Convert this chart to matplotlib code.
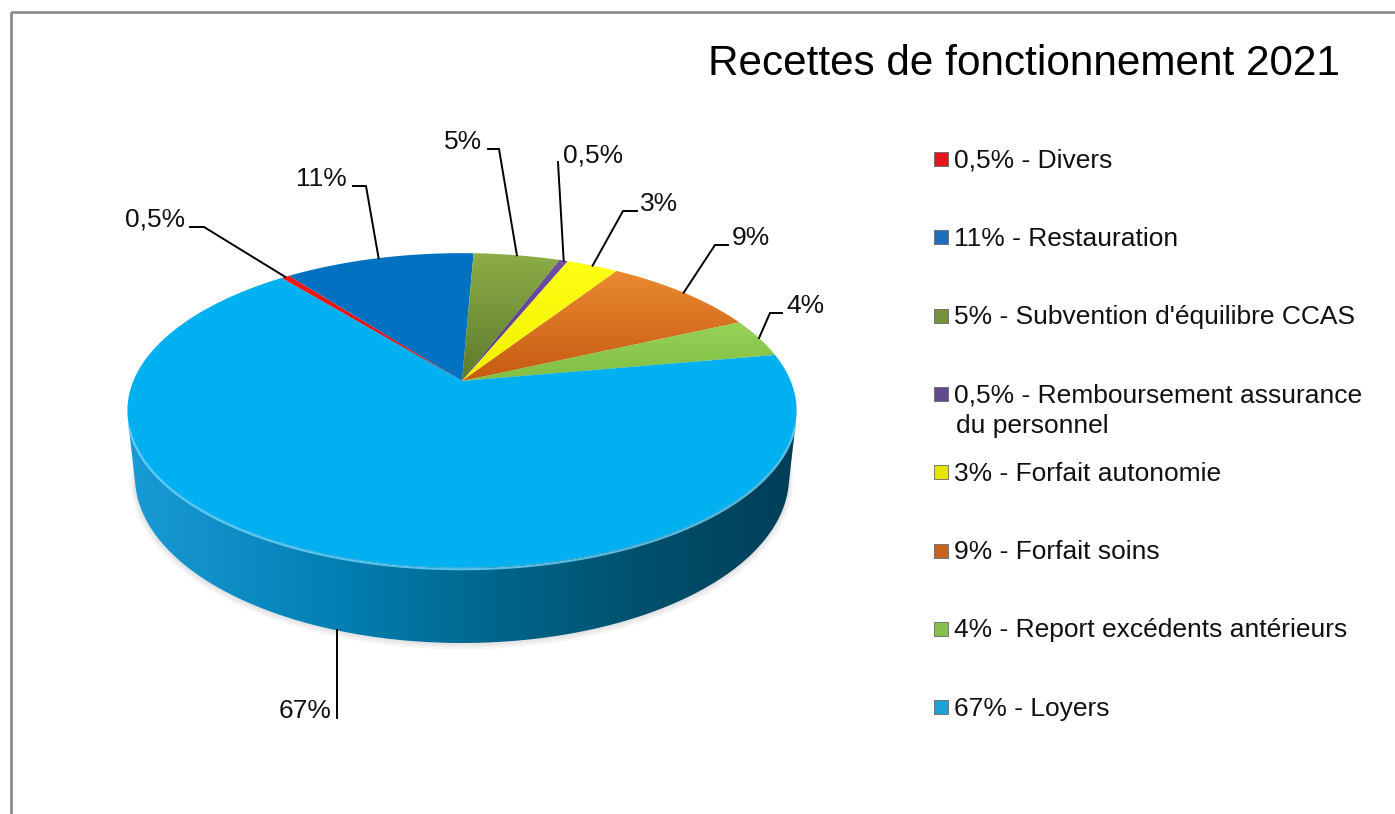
import numpy as np
import matplotlib
matplotlib.use('Agg')
from matplotlib import pyplot as plt
from matplotlib.patches import Polygon, Rectangle
from matplotlib.colors import to_rgb

plt.rcParams['font.family'] = ['Liberation Sans', 'DejaVu Sans']
plt.rcParams['image.composite_image'] = False  # keep each clipped gradient separate

# Slices in legend order (clockwise from the first slice)
categories = ['Divers', 'Restauration', "Subvention d'équilibre CCAS",
              'Remboursement assurance', 'Forfait autonomie', 'Forfait soins',
              'Report excédents antérieurs', 'Loyers']
shares = [0.5, 11, 5, 0.5, 3, 9, 4, 67]
share_labels = ['0,5%', '11%', '5%', '0,5%', '3%', '9%', '4%', '67%']
legend_labels = [s + ' - ' + c for s, c in zip(share_labels, categories)]

# top colour (rim) and lower colour (towards centre) of each slice
col_rim = ['#F01818', '#0070C0', '#8CAD46', '#6D50A2', '#FFFF14', '#EA8A30', '#96D256', '#00B0F0']
col_mid = ['#D81010', '#0070C0', '#5E7A2E', '#563A88', '#F0F000', '#C65A12', '#80BE45', '#00B0F0']
col_leg = ['#E8141B', '#1F6FBE', '#76933C', '#604A8B', '#E6E600', '#C8621E', '#86C04C', '#1CA3DA']

# perspective camera for the 3D pie (screen pixels)
cx, cy = 462, 381
S, D, elev, h = 1558.0, 4.74, np.radians(27.5), 0.23
ce, se = np.cos(elev), np.sin(elev)
start = np.radians(129.0)


def project(x, y, z):
    qy = y + D * ce
    qz = z - D * se
    depth = qy * ce - qz * se
    up = qy * se + qz * ce
    return cx + S * x / depth, cy - S * up / depth


def rim(t, z=0.0):
    return project(np.cos(t), np.sin(t), z)


fig = plt.figure(figsize=(13.95, 8.14), dpi=100)
ax = fig.add_axes([0, 0, 1, 1])
ax.set_xlim(0, 1395)
ax.set_ylim(814, 0)
ax.axis('off')


def gradient_fill(verts, c0, c1, horizontal=False, stops=None):
    poly = Polygon(verts, closed=True, fill=False, lw=0)
    ax.add_patch(poly)
    x0, y0 = verts.min(axis=0)
    x1, y1 = verts.max(axis=0)
    n = 256
    f = np.linspace(0, 1, n)
    if stops is not None:
        pos = [p for p, _ in stops]
        cols = np.array([to_rgb(c) for _, c in stops])
        grad = np.stack([np.interp(f, pos, cols[:, k]) for k in range(3)], axis=-1)
    else:
        a, b = np.array(to_rgb(c0)), np.array(to_rgb(c1))
        grad = a * (1 - f[:, None]) + b * f[:, None]
    img = grad[None, :, :] if horizontal else grad[:, None, :]
    im = ax.imshow(img, extent=(x0, x1, y1, y0), origin='upper', aspect='auto',
                   interpolation='bilinear', zorder=1)
    im.set_clip_path(poly)


# slice angles
fr = np.array(shares) / np.sum(shares)
edges = start - 2 * np.pi * np.concatenate([[0], np.cumsum(fr)])

# faint shadow under the pie
tt = np.linspace(0, 2 * np.pi, 400)
for k in range(3):
    r = 1.0 + 0.004 * (k + 1)
    sx, sy = project(r * np.cos(tt), r * np.sin(tt), -h)
    ax.fill(sx, sy + 1.2 * (k + 1), color='black', alpha=0.035, lw=0)

# side wall (only the big slice shows in front)
t1 = np.pi + np.arcsin(1 / (D * ce))
t2 = 2 * np.pi - np.arcsin(1 / (D * ce))
ts = np.linspace(t1, t2, 300)
tx, ty = rim(ts)
bx, by = rim(ts[::-1], -h)
side = np.column_stack([np.concatenate([tx, bx]), np.concatenate([ty, by])])
gradient_fill(side, None, None, horizontal=True,
              stops=[(0.0, '#1A9AD6'), (0.3, '#0381B5'), (0.5, '#006B93'),
                     (0.75, '#00526F'), (1.0, '#003E58')])

# top faces
for i in range(len(shares)):
    ang = np.linspace(edges[i], edges[i + 1], max(3, int(abs(edges[i + 1] - edges[i]) * 120)))
    px, py = rim(ang)
    verts = np.column_stack([np.concatenate([[cx], px]), np.concatenate([[cy], py])])
    if col_rim[i] == col_mid[i]:
        ax.fill(verts[:, 0], verts[:, 1], color=col_rim[i], lw=0)
    else:
        gradient_fill(verts, col_rim[i], col_mid[i])

# light bevel along front rim
hx, hy = rim(np.linspace(t1 + 0.05, t2 - 0.05, 300))
ax.plot(hx, hy + 1.5, color='#6FD6FA', lw=1.6, alpha=0.8, solid_capstyle='round')

# data labels with leader lines
label_pos = [(185, 227, 'right'), (347, 186, 'right'), (482, 149, 'right'),
             (563, 162, 'left'), (640, 211, 'left'), (732, 245, 'left'),
             (786, 313, 'left'), (332, 718, 'right')]
elbows = [[(190, 227), (204, 227)], [(353, 186), (366, 186)], [(488, 149), (499, 149)],
          [(558, 162)], [(637, 211), (623, 211)], [(728, 245), (715, 245)],
          [(782, 313), (770, 313)], [(337, 718)]]
for i in range(len(shares)):
    mid = 0.5 * (edges[i] + edges[i + 1])
    if i == len(shares) - 1:
        # leader drops straight down from the bottom rim
        bxs, bys = rim(ts, -h)
        ex = elbows[i][0][0]
        axp = (ex, np.interp(ex, bxs, bys))
    else:
        axp = rim(mid)
    pts = elbows[i] + [axp]
    ax.plot([p[0] for p in pts], [p[1] for p in pts], color='black', lw=1.4,
            solid_joinstyle='miter')
    x, y, ha = label_pos[i]
    ax.text(x, y, share_labels[i], fontsize=19, ha=ha, va='baseline', color='#111111')

# legend
for i, lab in enumerate(legend_labels):
    yc = 159 + 78.3 * i
    ax.add_patch(Rectangle((934, yc - 7), 14, 14, facecolor=col_leg[i],
                           edgecolor='#666666', lw=0.6))
    ax.text(954, yc + 8.5, lab, fontsize=19, ha='left', va='baseline', color='#111111')
    if i == 3:
        ax.text(956, yc + 39.5, 'du personnel', fontsize=19, ha='left',
                va='baseline', color='#111111')

# title
ax.text(1340, 75, 'Recettes de fonctionnement 2021', fontsize=30.4, ha='right',
        va='baseline', color='black')

# chart area border
ax.add_patch(Rectangle((10.5, 11.5), 1500, 1000, fill=False, edgecolor='#8C8C8C', lw=2))

ax.set_xlim(0, 1395)
ax.set_ylim(814, 0)
plt.savefig('out.png', dpi=100)
